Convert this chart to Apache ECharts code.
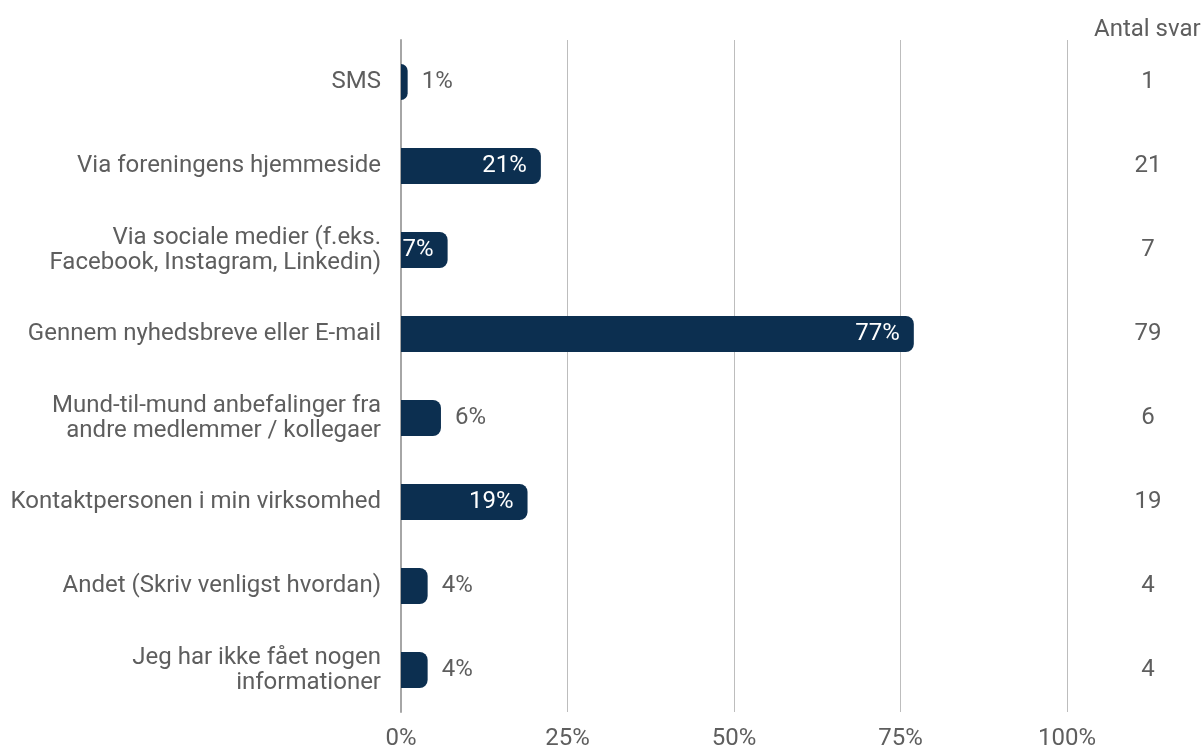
<!DOCTYPE html>
<html>
<head>
<meta charset="utf-8">
<script src="https://cdn.jsdelivr.net/npm/echarts@6/dist/echarts.min.js"></script>
<style>
  html, body { margin: 0; padding: 0; background: #fff; }
  #chart { width: 1204px; height: 747px; }
</style>
</head>
<body>
<div id="chart"></div>
<script>
  // data
  var categories = [
    'SMS',
    'Via foreningens hjemmeside',
    'Via sociale medier (f.eks.\nFacebook, Instagram, Linkedin)',
    'Gennem nyhedsbreve eller E-mail',
    'Mund-til-mund anbefalinger fra\nandre medlemmer / kollegaer',
    'Kontaktpersonen i min virksomhed',
    'Andet (Skriv venligst hvordan)',
    'Jeg har ikke fået nogen\ninformationer'
  ];
  var percentValues = [1, 21, 7, 77, 6, 19, 4, 4];
  var answerCounts = [1, 21, 7, 79, 6, 19, 4, 4];
  var xTicks = [0, 25, 50, 75, 100];

  var barColor = '#0c2f50';
  var textColor = '#5e5e5e';
  var font = 'Roboto, "Noto Sans", sans-serif';
  var fs = 24;

  var chart = echarts.init(document.getElementById('chart'));

  var barData = percentValues.map(function (v) {
    var inside = v >= 7;
    return {
      value: v,
      label: inside
        ? { position: 'insideRight', distance: 14, color: '#ffffff' }
        : { position: 'right', distance: 14, color: textColor }
    };
  });

  chart.setOption({
    animation: false,
    textStyle: { fontFamily: font },
    title: {
      text: 'Antal svar',
      left: 1094,
      top: 18,
      padding: 0,
      textStyle: { fontSize: fs, fontWeight: 'normal', color: textColor, fontFamily: font }
    },
    grid: {
      left: 401, right: 137, top: 40, bottom: 35,
      containLabel: false,
      outerBoundsMode: 'none'
    },
    xAxis: {
      type: 'value',
      min: xTicks[0],
      max: xTicks[xTicks.length - 1],
      interval: 25,
      axisLine: { show: false },
      axisTick: { show: false },
      splitLine: { show: true, lineStyle: { color: '#bdbdbd', width: 1 } },
      axisLabel: {
        formatter: '{value}%',
        fontSize: fs,
        color: textColor,
        margin: 15
      }
    },
    yAxis: [
      {
        type: 'category',
        data: categories,
        inverse: true,
        axisTick: { show: false },
        axisLine: { show: true, lineStyle: { color: '#a6a6a6', width: 2 } },
        axisLabel: {
          fontSize: fs,
          color: textColor,
          margin: 20,
          lineHeight: 25,
          align: 'right',
          padding: [4, 0, 0, 0]
        }
      },
      {
        type: 'category',
        data: answerCounts.map(String),
        inverse: true,
        position: 'right',
        axisTick: { show: false },
        axisLine: { show: false },
        axisLabel: {
          fontSize: fs,
          color: textColor,
          margin: 81,
          align: 'center',
          padding: [4, 0, 0, 0]
        }
      }
    ],
    series: [
      {
        type: 'bar',
        data: barData,
        barWidth: 36,
        itemStyle: { color: barColor, borderRadius: [0, 8, 8, 0] },
        label: {
          show: true,
          formatter: '{c}%',
          fontSize: fs,
          fontFamily: font,
          padding: [4, 0, 0, 0]
        }
      }
    ]
  });
</script>
</body>
</html>
